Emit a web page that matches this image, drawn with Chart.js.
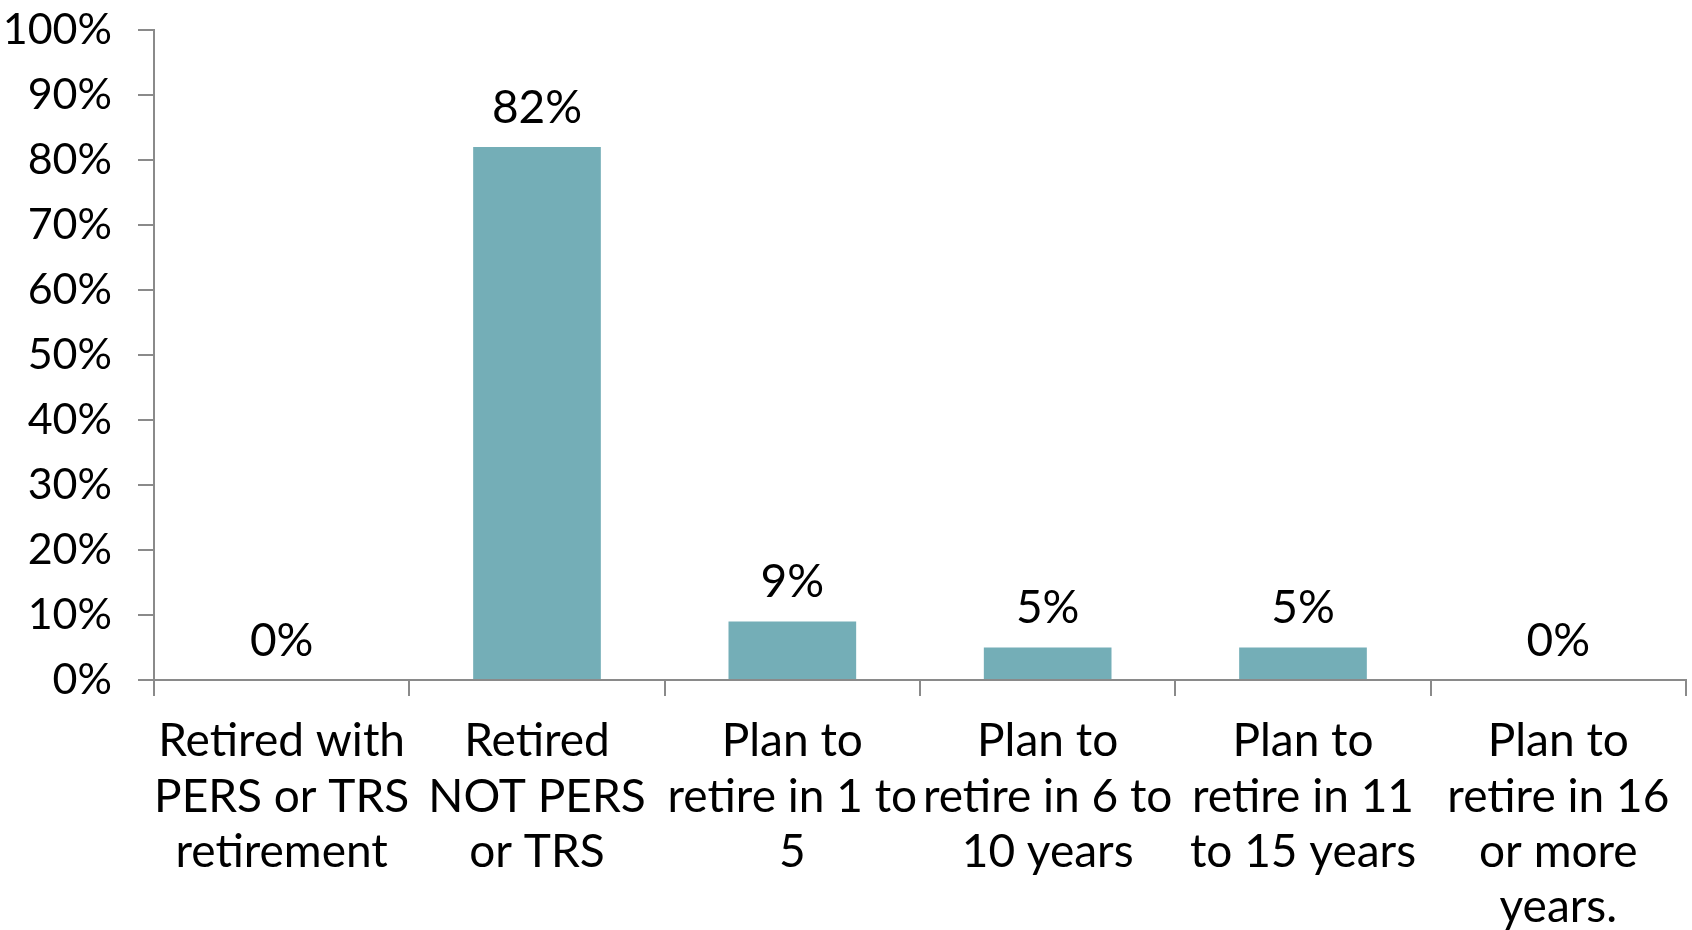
<!DOCTYPE html>
<html lang="en">
<head>
  <meta charset="UTF-8">
  <title>Retirement status</title>
  <script src="https://cdn.jsdelivr.net/npm/chart.js"></script>
  <style>
    html, body { margin: 0; padding: 0; background: #fff; }
    #wrap { width: 1692px; height: 930px; position: relative; }
  </style>
</head>
<body>
  <div id="wrap">
    <canvas id="retireChart"></canvas>
  </div>

  <script>
    // categories (already split into lines, as in the original)
    const categories = [
      ['Retired with', 'PERS or TRS', 'retirement'],
      ['Retired', 'NOT PERS', 'or TRS'],
      ['Plan to', 'retire in 1 to', '5'],
      ['Plan to', 'retire in 6 to', '10 years'],
      ['Plan to', 'retire in 11', 'to 15 years'],
      ['Plan to', 'retire in 16', 'or more', 'years.']
    ];
    const percents = [0, 82, 9, 5, 5, 0];
    const yTicks = [0, 10, 20, 30, 40, 50, 60, 70, 80, 90, 100];

    const axisGray = '#8a8a8a';
    const barColor = '#74AEB7';
    const fontFamily = 'Lato, "Open Sans", sans-serif';

    // value labels above the bars
    const valueLabels = {
      id: 'valueLabels',
      afterDatasetsDraw(chart) {
        const ctx = chart.ctx;
        const meta = chart.getDatasetMeta(0);
        ctx.save();
        ctx.font = '46px ' + fontFamily;
        ctx.fillStyle = '#000';
        ctx.textAlign = 'center';
        ctx.textBaseline = 'middle';
        meta.data.forEach((bar, i) => {
          ctx.fillText(percents[i] + '%', bar.x, bar.y - 39);
        });
        ctx.restore();
      }
    };

    new Chart(document.getElementById('retireChart').getContext('2d'), {
      type: 'bar',
      data: {
        labels: categories,
        datasets: [{
          data: percents,
          backgroundColor: barColor,
          borderWidth: 0,
          barPercentage: 0.5,
          categoryPercentage: 1.0
        }]
      },
      options: {
        responsive: true,
        maintainAspectRatio: false,
        animation: false,
        layout: { padding: { top: 30, right: 6, bottom: 0, left: 0 } },
        plugins: {
          legend: { display: false },
          tooltip: { enabled: false }
        },
        scales: {
          x: {
            grid: {
              drawOnChartArea: false,
              offset: true,
              color: axisGray,
              lineWidth: 2,
              tickLength: 16
            },
            border: { color: axisGray, width: 2 },
            ticks: {
              color: '#000',
              font: { family: fontFamily, size: 46, lineHeight: 1.2 },
              padding: 18,
              maxRotation: 0,
              minRotation: 0,
              autoSkip: false
            },
            afterFit: (scale) => { scale.height = 250; }
          },
          y: {
            min: 0,
            max: 100,
            afterBuildTicks: (scale) => { scale.ticks = yTicks.map(v => ({ value: v })); },
            grid: {
              drawOnChartArea: false,
              color: axisGray,
              lineWidth: 2,
              tickLength: 16
            },
            border: { color: axisGray, width: 2 },
            ticks: {
              color: '#000',
              font: { family: fontFamily, size: 43 },
              padding: 26,
              callback: v => v + '%'
            },
            afterFit: (scale) => {
              scale.width = 154;
              // keep the label padding from pushing the plot area down
              scale.paddingTop = 0;
              scale.paddingBottom = 0;
            }
          }
        }
      },
      plugins: [valueLabels]
    });
  </script>
</body>
</html>
